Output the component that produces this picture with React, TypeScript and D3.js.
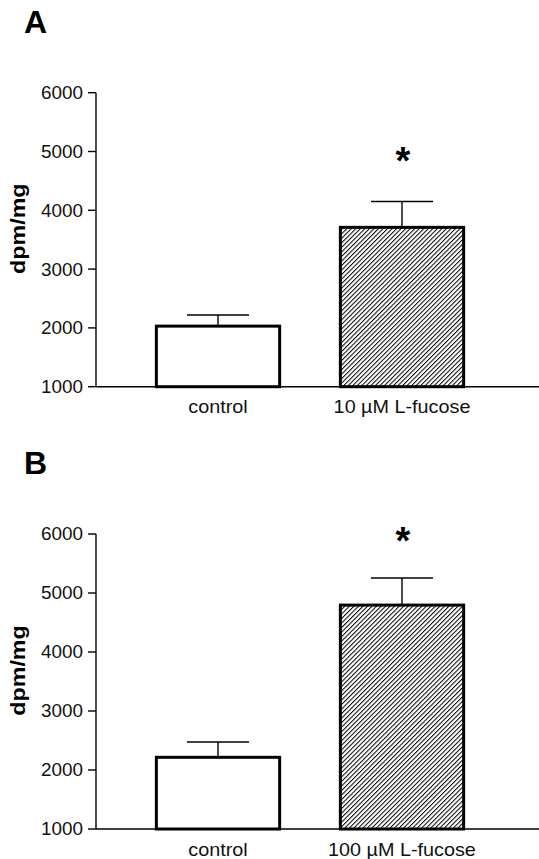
import React from "react";
import * as d3 from "d3";

const categoriesA = ["control", "10 µM L-fucose"];
const meansA = [2030, 3710];
const errorsA = [190, 440];

const categoriesB = ["control", "100 µM L-fucose"];
const meansB = [2215, 4795];
const errorsB = [260, 460];

const yTicks = [1000, 2000, 3000, 4000, 5000, 6000];
const panelLabels = ["A", "B"];

const FONT = "'Liberation Sans', Arial, Helvetica, sans-serif";

const Panel = ({ label, categories, means, errors, top, bottom, labelY, catY, starY }) => {
  const y = d3.scaleLinear().domain([1000, 6000]).range([bottom, top]);
  const x = d3
    .scaleBand()
    .domain(categories)
    .range([126, 494])
    .paddingInner(0.33)
    .paddingOuter(0.165);
  const bw = x.bandwidth();

  return (
    <g>
      <text x={24} y={labelY} fontFamily={FONT} fontWeight="bold" fontSize={32}>
        {label}
      </text>

      {/* y axis */}
      <line x1={96} x2={96} y1={y(6000)} y2={y(1000)} stroke="#000" strokeWidth={1.4} />
      {yTicks.map(t => (
        <g key={t} transform={`translate(0,${y(t)})`}>
          <line x1={88} x2={96} stroke="#000" strokeWidth={1.4} />
          <g transform="translate(83,6.4) scale(1.05,1)">
            <text textAnchor="end" fontFamily={FONT} fontSize={18} fill="#111">
              {t}
            </text>
          </g>
        </g>
      ))}
      <g transform={`translate(25,${(y(6000) + y(1000)) / 2 - 11}) rotate(-90) scale(1.11,1)`}>
        <text textAnchor="middle" fontFamily={FONT} fontWeight="bold" fontSize={21}>
          dpm/mg
        </text>
      </g>

      {/* x axis */}
      <line x1={96} x2={539} y1={y(1000)} y2={y(1000)} stroke="#000" strokeWidth={1.6} />

      {categories.map((c, i) => {
        const cx = x(c) + bw / 2;
        const yTop = y(means[i]);
        const yErr = y(means[i] + errors[i]);
        return (
          <g key={c}>
            <line x1={cx} x2={cx} y1={yTop} y2={yErr} stroke="#000" strokeWidth={1.4} />
            <line x1={cx - 31} x2={cx + 31} y1={yErr} y2={yErr} stroke="#000" strokeWidth={1.4} />
            <rect
              x={x(c)}
              y={yTop}
              width={bw}
              height={y(1000) - yTop}
              fill={i === 1 ? "url(#hatch)" : "#fff"}
              stroke="#000"
              strokeWidth={3}
            />
            {i === 1 && (
              <text
                x={cx + 1}
                y={starY}
                textAnchor="middle"
                fontFamily={FONT}
                fontWeight="bold"
                fontSize={38}
              >
                *
              </text>
            )}
            <g transform={`translate(${cx},${catY}) scale(1.1,1)`}>
              <text textAnchor="middle" fontFamily={FONT} fontSize={18} fill="#111">
                {c}
              </text>
            </g>
          </g>
        );
      })}
    </g>
  );
};

export default function App() {
  return (
    <svg
      width={539}
      height={859}
      style={{ position: "absolute", left: 0, top: 0, background: "#fff" }}
    >
      <defs>
        <pattern
          id="hatch"
          patternUnits="userSpaceOnUse"
          width={3.2}
          height={10}
          patternTransform="rotate(45)"
        >
          <rect width={3.2} height={10} fill="#fff" />
          <line x1={0.5} y1={0} x2={0.5} y2={10} stroke="#000" strokeWidth={1} />
        </pattern>
      </defs>
      <rect width={539} height={859} fill="#fff" />
      <Panel
        label={panelLabels[0]}
        categories={categoriesA}
        means={meansA}
        errors={errorsA}
        top={92.7}
        bottom={386.7}
        labelY={33}
        catY={413}
        starY={174}
      />
      <Panel
        label={panelLabels[1]}
        categories={categoriesB}
        means={meansB}
        errors={errorsB}
        top={534}
        bottom={829}
        labelY={474}
        catY={856}
        starY={554}
      />
    </svg>
  );
}
